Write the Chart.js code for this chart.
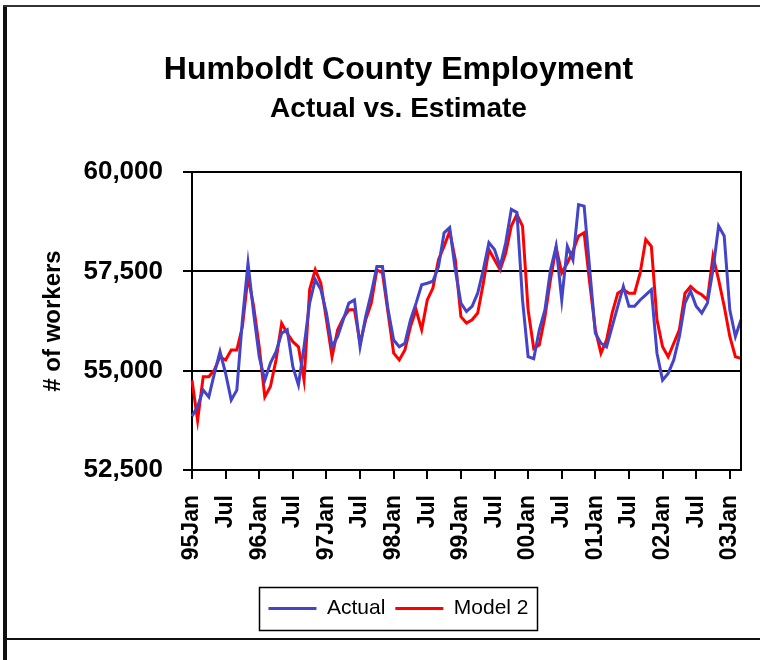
<!DOCTYPE html>
<html>
<head>
<meta charset="utf-8">
<script src="https://cdn.jsdelivr.net/npm/chart.js@4"></script>
<style>
  html, body { margin: 0; padding: 0; background: #fff; }
  #wrap { position: relative; width: 760px; height: 660px; }
  #chart { position: absolute; left: 0; top: 0; }
  .edge { position: absolute; background: #111; }
  .edge.left   { left: 3px; top: 5px; width: 4px; height: 655px; }
  .edge.top    { left: 3px; top: 5px; width: 757px; height: 2px; background: #333; }
  .edge.bottom { left: 7px; top: 638px; width: 753px; height: 2px; }
</style>
</head>
<body>
<div id="wrap">
  <canvas id="chart" width="760" height="660"></canvas>
  <div class="edge left"></div>
  <div class="edge top"></div>
  <div class="edge bottom"></div>
</div>
<script>
// monthly, Jan 1995 .. Mar 2003
const startYear = 1995;
const monthCount = 99;

const actual = [
  53850, 54100, 54510, 54340, 54930, 55480, 54930, 54260, 54510, 56280, 57710, 56450,
  55350, 54760, 55190, 55480, 55940, 56030, 55100, 54640, 55600, 56700, 57290, 57040,
  56450, 55600, 55860, 56280, 56700, 56780, 55600, 56360, 56950, 57620, 57620, 56530,
  55770, 55600, 55690, 56280, 56700, 57160, 57200, 57250, 57620, 58470, 58600, 57540,
  56700, 56490, 56620, 56950, 57540, 58220, 58050, 57620, 58220, 59060, 58980, 56780,
  55350, 55300, 56030, 56530, 57540, 58130, 56780, 58130, 57790, 59180, 59140, 57540,
  55940, 55690, 55600, 56110, 56620, 57120, 56620, 56620, 56780, 56910, 57040, 55440,
  54760, 54930, 55270, 55860, 56700, 57000, 56620, 56450, 56700, 57540, 58640, 58390,
  56530, 55860, 56280
];

const model2 = [
  54760, 53750, 54850, 54850, 55020, 55350, 55270, 55520, 55520, 56110, 57370, 56620,
  55600, 54340, 54600, 55270, 56190, 55940, 55730, 55600, 54760, 57040, 57540, 57200,
  56280, 55350, 56030, 56320, 56530, 56530, 55690, 56280, 56700, 57540, 57460, 56450,
  55440, 55270, 55520, 56110, 56530, 56030, 56780, 57080, 57790, 58130, 58510, 57790,
  56360, 56200, 56280, 56450, 57200, 58050, 57790, 57540, 57960, 58640, 58930, 58640,
  56530, 55560, 55650, 56360, 57300, 58100, 57460, 57710, 58010, 58390, 58470, 57200,
  56030, 55440, 55770, 56450, 56950, 57040, 56950, 56950, 57460, 58300, 58130, 56280,
  55600, 55350, 55690, 56030, 56950, 57120, 56990, 56910, 56780, 57880, 57290, 56620,
  55860, 55350, 55310
];

const yTicks = [52500, 55000, 57500, 60000];

// category per month, e.g. "95Jan", "95Feb" ...
const monthNames = ['Jan','Feb','Mar','Apr','May','Jun','Jul','Aug','Sep','Oct','Nov','Dec'];
const months = [];
for (let i = 0; i < monthCount; i++) {
  const yy = String((startYear + Math.floor(i / 12)) % 100).padStart(2, '0');
  months.push(yy + monthNames[i % 12]);
}

// only Jan gets the year, Jul stands alone, the rest get no tick at all
function tickLabel(i) {
  const m = i % 12;
  if (m === 0) return months[i];
  if (m === 6) return 'Jul';
  return null;
}

const FONT = "Arial, 'Liberation Sans', sans-serif";

// right edge of the plot + box round the legend
const framePlugin = {
  id: 'frame',
  afterDraw(chart) {
    const { ctx, chartArea: a, legend } = chart;
    ctx.save();
    ctx.strokeStyle = '#000';
    ctx.lineWidth = 2;
    ctx.beginPath();
    ctx.moveTo(a.right, a.top - 1);
    ctx.lineTo(a.right, a.bottom + 1);
    ctx.stroke();

    const boxes = legend.legendHitBoxes;
    if (boxes && boxes.length) {
      const l = Math.min(...boxes.map(b => b.left)) - 9;
      const r = Math.max(...boxes.map(b => b.left + b.width)) + 9;
      const t = Math.min(...boxes.map(b => b.top)) - 11;
      const btm = Math.max(...boxes.map(b => b.top + b.height)) + 11;
      ctx.lineWidth = 1.5;
      ctx.strokeRect(Math.round(l) + 0.5, Math.round(t) + 0.5, Math.round(r - l), Math.round(btm - t));
    }
    ctx.restore();
  }
};

Chart.defaults.color = '#000';
Chart.defaults.font.family = FONT;

new Chart(document.getElementById('chart').getContext('2d'), {
  type: 'line',
  data: {
    labels: months,
    datasets: [
      {
        label: 'Actual',
        data: actual,
        borderColor: '#4444C8',
        backgroundColor: '#4444C8',
        borderWidth: 3,
        pointRadius: 0,
        tension: 0
      },
      {
        label: 'Model 2',
        data: model2,
        borderColor: '#FF0000',
        backgroundColor: '#FF0000',
        borderWidth: 3,
        pointRadius: 0,
        tension: 0
      }
    ]
  },
  options: {
    responsive: false,
    animation: false,
    layout: { padding: { left: 56, right: 19, top: 0, bottom: 31 } },
    plugins: {
      title: {
        display: true,
        text: 'Humboldt County Employment',
        font: { size: 32, weight: 'bold', family: FONT },
        padding: { top: 51, bottom: 0 }
      },
      subtitle: {
        display: true,
        text: 'Actual vs. Estimate',
        font: { size: 28, weight: 'bold', family: FONT },
        padding: { top: 3, bottom: 46 }
      },
      legend: {
        position: 'bottom',
        labels: {
          usePointStyle: true,
          pointStyle: 'line',
          pointStyleWidth: 48,
          padding: 10,
          font: { size: 21, family: FONT }
        }
      },
      tooltip: { enabled: false }
    },
    scales: {
      x: {
        type: 'category',
        offset: false,
        grid: {
          drawOnChartArea: false,
          drawTicks: true,
          tickLength: 9,
          color: '#000',
          lineWidth: 2
        },
        border: { color: '#000', width: 2 },
        ticks: {
          autoSkip: false,
          minRotation: 90,
          maxRotation: 90,
          padding: 16,
          font: { size: 23, weight: 'bold', family: FONT },
          callback: (v, i) => tickLabel(i)
        },
        // fixed height, and no extra room asked for the end labels
        afterFit: s => { s.height = 118; s.paddingLeft = 0; s.paddingRight = 0; }
      },
      y: {
        min: yTicks[0],
        max: yTicks[yTicks.length - 1],
        afterBuildTicks: s => { s.ticks = yTicks.map(v => ({ value: v })); },
        grid: { color: '#000', lineWidth: 2, tickLength: 9 },
        border: { color: '#000', width: 2 },
        ticks: {
          padding: 20,
          font: { size: 26, weight: 'bold', family: FONT },
          callback: v => v.toLocaleString('en-US')
        },
        title: {
          display: true,
          text: '# of workers',
          font: { size: 24, weight: 'bold', family: FONT },
          padding: { top: -17, bottom: 0 }
        },
        afterFit: s => { s.width = 136; }
      }
    }
  },
  plugins: [framePlugin]
});
</script>
</body>
</html>
